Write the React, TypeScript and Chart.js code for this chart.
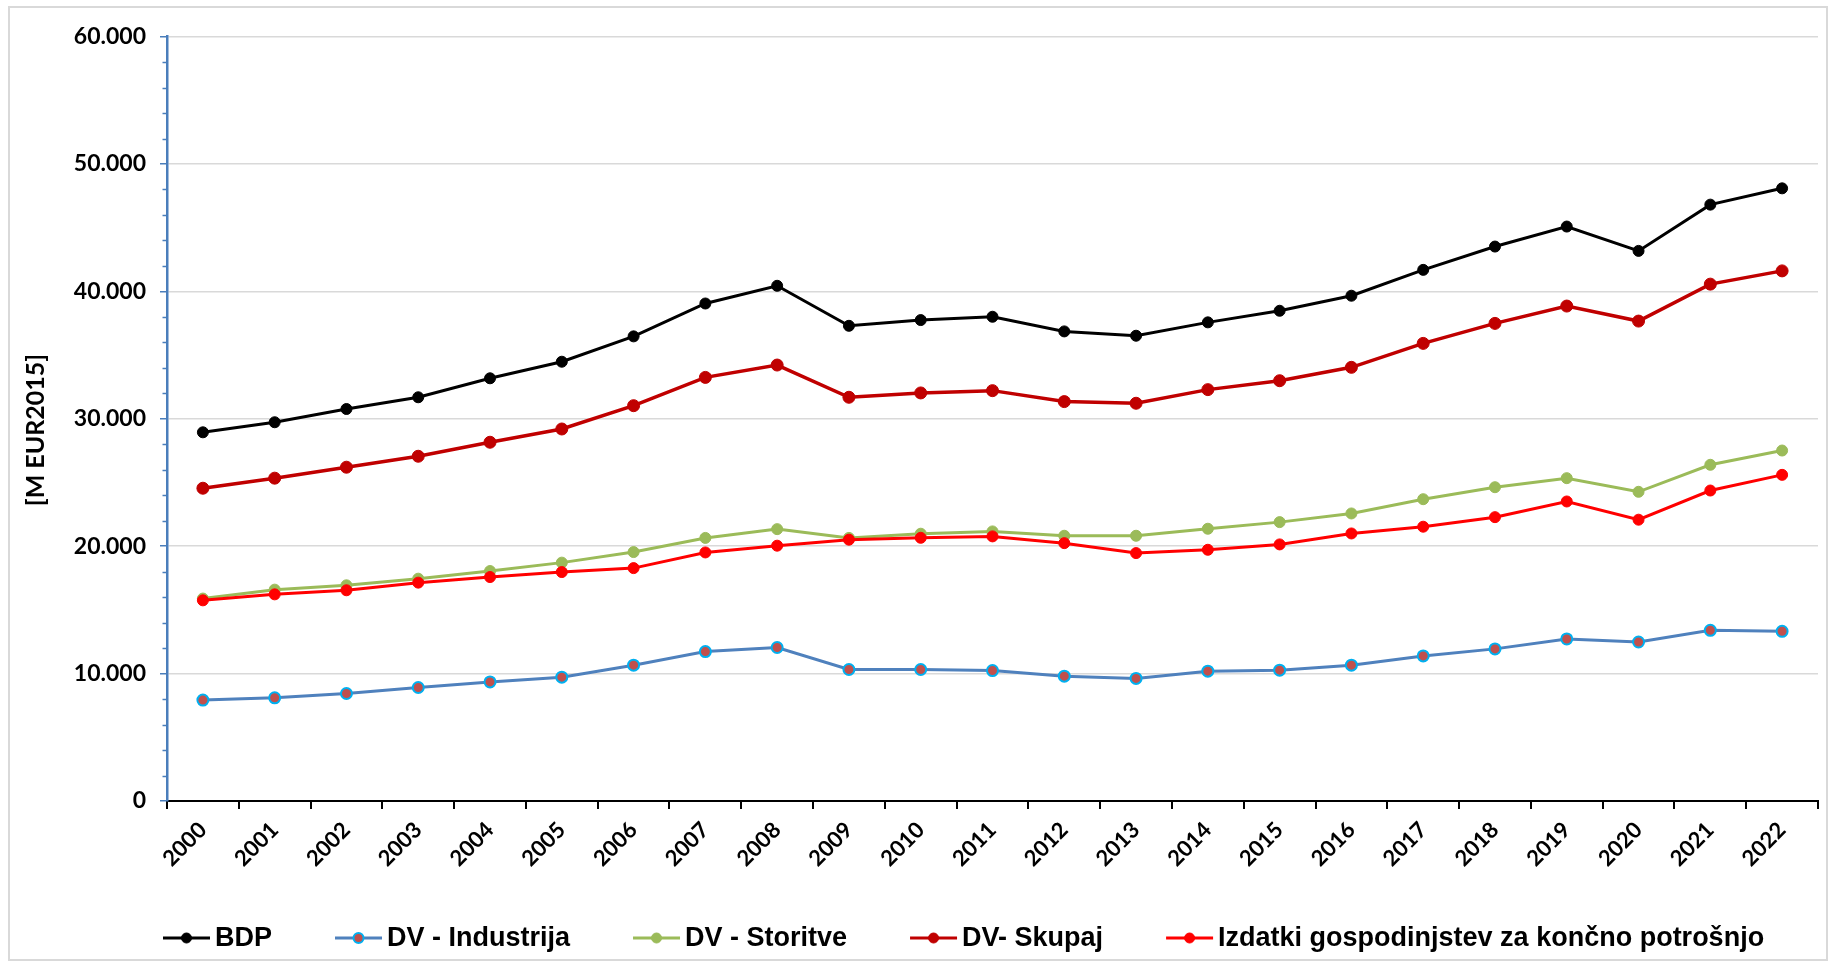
import React, { useEffect, useRef } from "react";
import { Chart, registerables } from "chart.js";

Chart.register(...registerables);

// Years on the category axis
const years = [
  "2000", "2001", "2002", "2003", "2004", "2005", "2006", "2007", "2008", "2009", "2010", "2011",
  "2012", "2013", "2014", "2015", "2016", "2017", "2018", "2019", "2020", "2021", "2022",
];

// Values in M EUR (2015 prices)
const bdp = [
  28940, 29730, 30770, 31690, 33180, 34480, 36470, 39050, 40440, 37300, 37750, 38010,
  36860, 36520, 37570, 38480, 39660, 41690, 43520, 45090, 43180, 46810, 48090,
];
const dvIndustrija = [
  7920, 8100, 8440, 8910, 9350, 9720, 10660, 11730, 12050, 10320, 10320, 10240,
  9800, 9620, 10190, 10270, 10660, 11390, 11940, 12720, 12480, 13400, 13320,
];
const dvStoritve = [
  15890, 16590, 16930, 17450, 18050, 18710, 19540, 20650, 21340, 20650, 20980, 21160,
  20820, 20820, 21370, 21890, 22570, 23690, 24630, 25340, 24270, 26390, 27510,
];
const dvSkupaj = [
  24550, 25340, 26200, 27060, 28160, 29200, 31030, 33250, 34220, 31690, 32030, 32210,
  31350, 31220, 32290, 32990, 34040, 35920, 37490, 38850, 37670, 40570, 41610,
];
const izdatki = [
  15750, 16220, 16540, 17140, 17580, 17970, 18280, 19510, 20040, 20510, 20660, 20770,
  20240, 19460, 19720, 20140, 21000, 21530, 22280, 23510, 22080, 24370, 25600,
];

const seriesLabels = [
  "BDP",
  "DV - Industrija",
  "DV - Storitve",
  "DV- Skupaj",
  "Izdatki gospodinjstev za končno potrošnjo",
];
const axisTitle = "[M EUR2015]";
const yMax = 60000;
const yMajorStep = 10000;
const yMinorStep = 2000;

const W = 1831;
const H = 963;
const AXIS_BLUE = "#4A7EBB";
const GRID_GRAY = "#D9D9D9";

function formatThousands(v: number): string {
  if (v === 0) return "0";
  const s = String(Math.round(v));
  return s.replace(/\B(?=(\d{3})+(?!\d))/g, ".");
}

const decorations = {
  id: "decorations",
  beforeDraw(chart: any) {
    const { ctx } = chart;
    ctx.save();
    ctx.fillStyle = "#ffffff";
    ctx.fillRect(0, 0, chart.width, chart.height);
    ctx.strokeStyle = GRID_GRAY;
    ctx.lineWidth = 2;
    ctx.strokeRect(9, 7, 1818, 953);
    ctx.restore();
  },
  afterDraw(chart: any) {
    const { ctx, chartArea } = chart;
    const yScale = chart.scales.y;

    // short minor tick marks on the value axis
    ctx.save();
    ctx.strokeStyle = AXIS_BLUE;
    ctx.lineWidth = 1.5;
    yScale.ticks.forEach((t: any) => {
      if (t.value % yMajorStep !== 0) {
        const py = Math.round(yScale.getPixelForValue(t.value)) + 0.5;
        ctx.beginPath();
        ctx.moveTo(chartArea.left - 4.5, py);
        ctx.lineTo(chartArea.left, py);
        ctx.stroke();
      }
    });
    ctx.restore();

    // value axis title
    ctx.save();
    ctx.translate(36, 430);
    ctx.rotate(-Math.PI / 2);
    ctx.fillStyle = "#000";
    ctx.font = "bold 25px Lato, 'Open Sans', sans-serif";
    ctx.textAlign = "center";
    ctx.textBaseline = "middle";
    ctx.fillText(axisTitle, 0, 0);
    ctx.restore();

    // legend row
    ctx.save();
    const ly = 938;
    let lx = 163;
    ctx.font = "bold 27px 'Liberation Sans', Arial, sans-serif";
    ctx.textBaseline = "middle";
    ctx.textAlign = "left";
    chart.data.datasets.forEach((ds: any) => {
      ctx.strokeStyle = ds.borderColor;
      ctx.lineWidth = 3;
      ctx.beginPath();
      ctx.moveTo(lx, ly);
      ctx.lineTo(lx + 47, ly);
      ctx.stroke();
      ctx.beginPath();
      ctx.arc(lx + 23.5, ly, 5, 0, Math.PI * 2);
      ctx.fillStyle = ds.pointBackgroundColor;
      ctx.fill();
      ctx.lineWidth = ds.pointBorderWidth;
      ctx.strokeStyle = ds.pointBorderColor;
      ctx.stroke();
      ctx.fillStyle = "#000";
      ctx.fillText(ds.label, lx + 52, ly + 1);
      lx += 52 + ctx.measureText(ds.label).width + 63;
    });
    ctx.restore();
  },
};

function lineSeries(
  label: string,
  data: number[],
  color: string,
  width: number,
  fill: string,
  border: string,
  borderW: number,
  radius: number,
  order: number
) {
  return {
    label,
    data,
    borderColor: color,
    backgroundColor: color,
    borderWidth: width,
    pointBackgroundColor: fill,
    pointBorderColor: border,
    pointBorderWidth: borderW,
    pointRadius: radius,
    pointHoverRadius: radius,
    tension: 0,
    fill: false,
    order,
  };
}

export default function App() {
  const canvasRef = useRef<HTMLCanvasElement | null>(null);

  useEffect(() => {
    const canvas = canvasRef.current;
    if (!canvas) return;
    const chart = new Chart(canvas, {
      type: "line",
      data: {
        labels: years,
        datasets: [
          lineSeries(seriesLabels[0], bdp, "#000000", 3, "#000000", "#000000", 1, 5.5, 5),
          lineSeries(seriesLabels[1], dvIndustrija, "#4F81BD", 3, "#C0504D", "#00B0F0", 2, 5.5, 4),
          lineSeries(seriesLabels[2], dvStoritve, "#9BBB59", 3, "#9BBB59", "#9BBB59", 1, 5.5, 3),
          lineSeries(seriesLabels[3], dvSkupaj, "#C00000", 3.5, "#C00000", "#C00000", 1, 6, 2),
          lineSeries(seriesLabels[4], izdatki, "#FF0000", 3, "#FF0000", "#FF0000", 1, 5.5, 1),
        ],
      },
      options: {
        responsive: false,
        devicePixelRatio: 1,
        animation: false,
        events: [],
        layout: { padding: { left: 0, top: 36.6, right: 13, bottom: 0 } },
        plugins: {
          legend: { display: false },
          tooltip: { enabled: false },
          title: { display: false },
        },
        scales: {
          x: {
            type: "category",
            offset: true,
            grid: {
              offset: true,
              drawOnChartArea: false,
              color: "#000000",
              lineWidth: 2,
              tickLength: 8,
            },
            border: { color: "#000000", width: 2 },
            ticks: {
              autoSkip: false,
              minRotation: 45,
              maxRotation: 45,
              padding: 8,
              color: "#000000",
              font: { family: "Lato, 'Open Sans', sans-serif", size: 22, weight: "bold" },
            },
            afterFit: (s: any) => {
              s.height = 162;
            },
          },
          y: {
            min: 0,
            max: yMax,
            ticks: {
              stepSize: yMinorStep,
              autoSkip: false,
              padding: 14,
              color: "#000000",
              font: { family: "Lato, 'Open Sans', sans-serif", size: 23, weight: "bold" },
              callback: (v: any) => (Number(v) % yMajorStep === 0 ? formatThousands(Number(v)) : ""),
            },
            grid: {
              color: (c: any) => (c.tick && c.tick.value % yMajorStep === 0 ? GRID_GRAY : "rgba(0,0,0,0)"),
              lineWidth: 1.5,
              tickLength: 7,
              tickColor: (c: any) => (c.tick && c.tick.value % yMajorStep === 0 ? AXIS_BLUE : "rgba(0,0,0,0)"),
              tickWidth: 1.5,
            },
            border: { color: AXIS_BLUE, width: 2.5 },
            afterFit: (s: any) => {
              s.width = 167;
            },
          },
        },
      },
      plugins: [decorations],
    } as any);
    return () => chart.destroy();
  }, []);

  return (
    <div style={{ position: "fixed", left: 0, top: 0, width: W, height: H, background: "#fff" }}>
      <canvas ref={canvasRef} width={W} height={H} style={{ display: "block", width: W, height: H }} />
    </div>
  );
}
